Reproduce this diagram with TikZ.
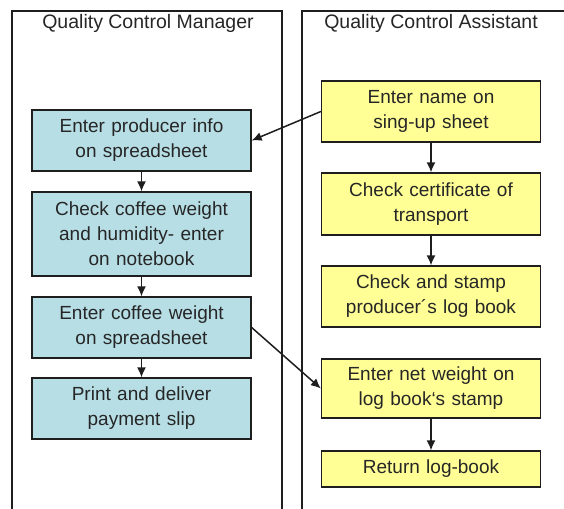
\documentclass[tikz,border=0pt]{standalone}
\usepackage{fontspec}
\setmainfont{Liberation Sans}
\usetikzlibrary{arrows.meta}
\definecolor{tealbox}{RGB}{183,222,229}
\definecolor{yelbox}{RGB}{255,255,150}
\definecolor{edge}{RGB}{30,30,30}
\begin{document}
\begin{tikzpicture}[x=1pt,y=-1pt,
  lane/.style={draw=edge,line width=1.2pt},
  title/.style={font=\fontsize{19.5}{22}\selectfont,text=black!85,inner sep=0},
  stepbox/.style={draw=edge,line width=1.3pt,minimum width=219pt,text width=216pt,align=center,inner sep=0,
     font=\fontsize{19}{25}\selectfont,text=black!85},
  mgr/.style={stepbox,fill=tealbox},
  ast/.style={stepbox,fill=yelbox},
  conn/.style={draw=edge,line width=1.5pt,-{Latex[length=10pt,width=9pt]}}]
\useasboundingbox (0,0) rectangle (564,508);
\draw[lane] (12,520) -- (12,11) -- (282,11) -- (282,520);
\draw[lane] (302,520) -- (302,11) -- (580,11);
\node[title] (t1) at (148,23) {Quality Control Manager};
\node[title] (t2) at (431,23) {Quality Control Assistant};

\node[mgr,minimum height=61pt] (m1) at (141.5,140.5) {Enter producer info\\on spreadsheet};
\node[mgr,minimum height=84pt] (m2) at (141.5,234) {Check coffee weight\\and humidity- enter\\on notebook};
\node[mgr,minimum height=61pt] (m3) at (141.5,327.5) {Enter coffee weight\\on spreadsheet};
\node[mgr,minimum height=61pt] (m4) at (141.5,408.5) {Print and deliver\\payment slip};

\node[ast,minimum height=61pt] (a1) at (431,111.5) {Enter name on\\sing-up sheet};
\node[ast,minimum height=62pt] (a2) at (431,204) {Check certificate of\\transport};
\node[ast,minimum height=61pt] (a3) at (431,296.5) {Check and stamp\\producer´s log book};
\node[ast,minimum height=59pt] (a4) at (431,388.5) {Enter net weight on\\log book`s stamp};
\node[ast,minimum height=36pt] (a5) at (431,469) {Return log-book};

\draw[conn] (m1) -- (m2);
\draw[conn] (m2) -- (m3);
\draw[conn] (m3) -- (m4);
\draw[conn] (a1) -- (a2);
\draw[conn] (a2) -- (a3);
\draw[conn] (a4) -- (a5);
\draw[conn] (a1.west) -- (m1.east);
\draw[conn] (m3.east) -- (a4.west);
\end{tikzpicture}
\end{document}
